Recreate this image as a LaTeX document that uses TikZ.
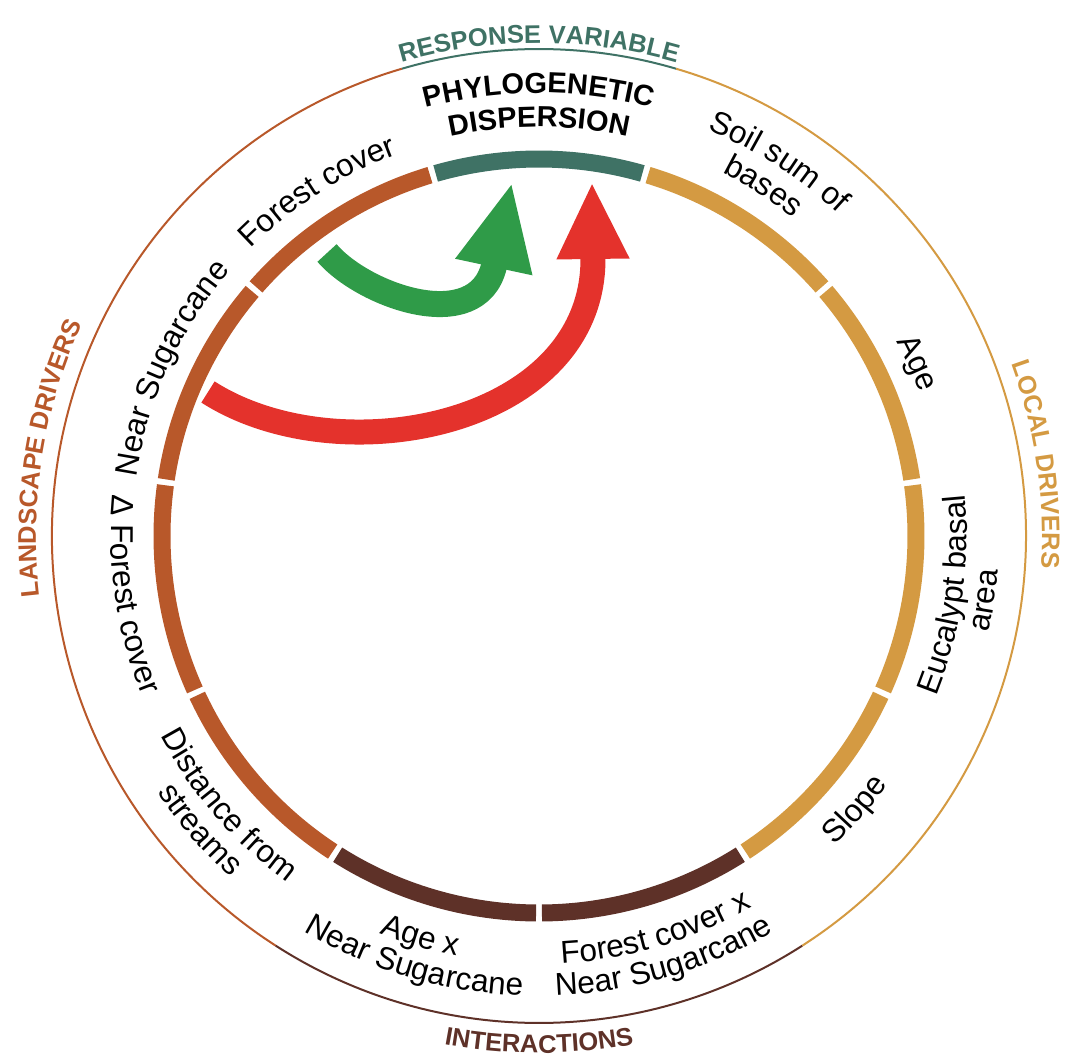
\documentclass[tikz,border=0pt]{standalone}
\usepackage{fontspec}
\setmainfont{Liberation Sans}
\usetikzlibrary{math, arrows.meta, decorations.text}

\definecolor{respcol}{RGB}{63,114,101}
\definecolor{landcol}{RGB}{184,88,42}
\definecolor{intcol}{RGB}{94,49,40}
\definecolor{localcol}{RGB}{212,154,66}
\definecolor{greencol}{RGB}{47,155,72}
\definecolor{redcol}{RGB}{228,50,44}

\newcommand{\ringfont}{\fontsize{18}{21}\selectfont}
\newcommand{\headfont}{\fontsize{16.5}{20}\selectfont\bfseries}
\newcommand{\groupfont}{\fontsize{14.5}{17}\selectfont\bfseries}

\begin{document}
\begin{tikzpicture}[x=0.02cm, y=0.02cm]
\tikzstyle{segment}=[line width=0.34cm]
\tikzstyle{rim}=[line width=0.04cm]
\tikzstyle{green arrow}=[greencol, line width=0.52cm, -{Triangle[length=1.74cm, width=1.44cm]}]
\tikzstyle{red arrow}=[redcol, line width=0.5cm, -{Triangle[length=1.54cm, width=1.34cm]}]

\useasboundingbox (-539,-523) rectangle (526,536);

\tikzmath{
    \seg = 360/11;
    \gap = 0.45;
    \rin = 377;
    \rout = 487;
}

% Draw the outer rim
\foreach \from/\to/\col in {73.64/106.36/respcol, 106.36/237.27/landcol, 237.27/302.73/intcol, 302.73/433.64/localcol}
    \draw[rim, \col] (\from:\rout) arc[start angle=\from, end angle=\to, radius=\rout];

% Draw the ring segments
\foreach \i/\col in {0/respcol, 1/landcol, 2/landcol, 3/landcol, 4/landcol, 5/intcol, 6/intcol, 7/localcol, 8/localcol, 9/localcol, 10/localcol} {
    \tikzmath{
        real \angA, \angB;
        \angA = 90 - \seg/2 + \i*\seg + \gap;
        \angB = 90 + \seg/2 + \i*\seg - \gap;
    }
    \draw[segment, \col] (\angA:\rin) arc[start angle=\angA, end angle=\angB, radius=\rin];
};

% Labels on the upper half, read clockwise
\foreach \ang/\rad/\txt in {122.7/407/Forest cover, 155.5/407/Near Sugarcane, 24.5/407/Age, 57.3/440/Soil sum of, 57.3/407/bases}
    \path[decorate, decoration={text along path, text align=center, text/.expanded={|\noexpand\ringfont|\txt}}]
        ({\ang+30}:\rad) arc[start angle=\ang+30, end angle=\ang-30, radius=\rad];

% Labels on the lower half, read anticlockwise
\foreach \ang/\rad/\txt in {188.2/428/Δ Forest cover, 220.9/428/Distance from, 220.9/460/streams, 253.6/428/Age x, 253.6/460/Near Sugarcane, 286.4/428/Forest cover x, 286.4/460/Near Sugarcane, 319.1/428/Slope, 351.8/428/Eucalypt basal, 351.8/460/area}
    \path[decorate, decoration={text along path, text align=center, text/.expanded={|\noexpand\ringfont|\txt}}]
        ({\ang-30}:\rad) arc[start angle=\ang-30, end angle=\ang+30, radius=\rad];

% Response variable
\foreach \rad/\txt in {443/PHYLOGENETIC, 409/DISPERSION}
    \path[decorate, decoration={text along path, text align=center, text/.expanded={|\noexpand\headfont|\txt}}]
        (130:\rad) arc[start angle=130, end angle=50, radius=\rad];

% Group names round the rim
\foreach \ang/\rad/\col/\txt in {90/493/respcol/RESPONSE VARIABLE, 171/503/landcol/LANDSCAPE DRIVERS, 8.2/503/localcol/LOCAL DRIVERS}
    \path[decorate, decoration={text along path, text align=center, text color=\col, text/.expanded={|\noexpand\groupfont|\txt}}]
        ({\ang+40}:\rad) arc[start angle=\ang+40, end angle=\ang-40, radius=\rad];
\path[decorate, decoration={text along path, text align=center, text color=intcol, text={|\groupfont|INTERACTIONS}}]
    (230:517) arc[start angle=230, end angle=310, radius=517];

% Arrows
\coordinate (greentail) at (-212,283);
\coordinate (greenbase) at (-45,270);
\coordinate (greentip) at (-27,354);
\coordinate (redtail) at (-331,144);
\coordinate (redbase) at (54,277);
\coordinate (redtip) at (53,354);

\draw[green arrow] (greentail) .. controls (-175,240) and (-62,200) .. (greenbase) -- (greentip);
\draw[red arrow] (redtail) .. controls (-200,60) and (54,110) .. (redbase) -- (redtip);

\end{tikzpicture}
\end{document}
